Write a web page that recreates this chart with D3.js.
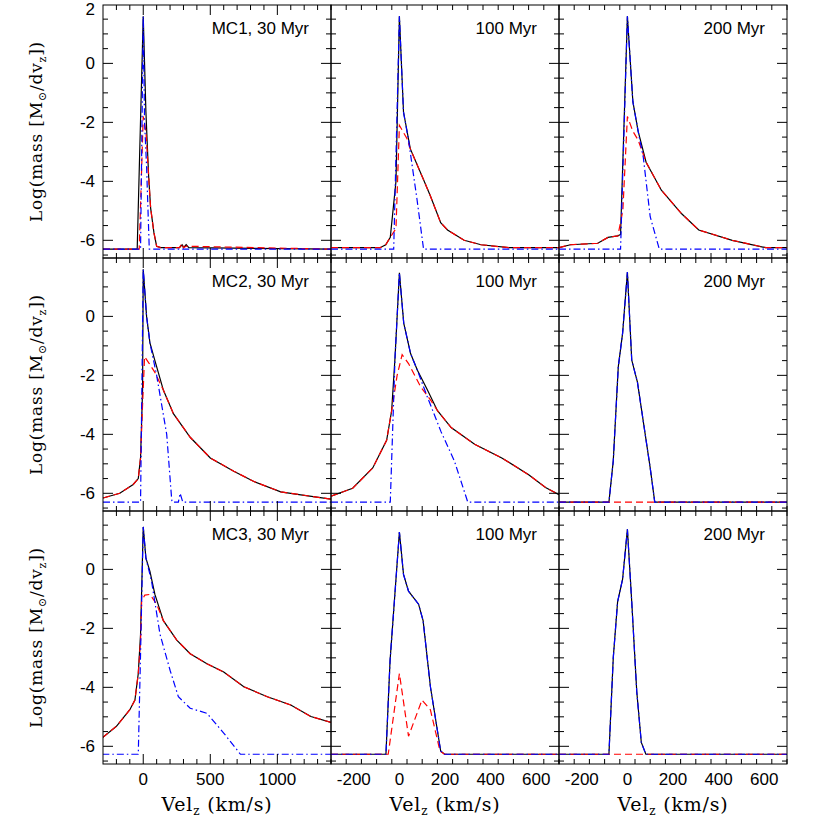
<!DOCTYPE html>
<html>
<head>
<meta charset="utf-8">
<script src="https://cdn.jsdelivr.net/npm/d3@7"></script>
<style>
body { margin: 0; background: #fff; }
text { font-family: "Liberation Sans", Arial, sans-serif; }
.serif { font-family: "DejaVu Serif", "Liberation Serif", serif; }
</style>
</head>
<body>
<svg id="chart" width="830" height="830"></svg>
<script>
// panel titles
var titles = ["MC1, 30 Myr", "100 Myr", "200 Myr",
              "MC2, 30 Myr", "100 Myr", "200 Myr",
              "MC3, 30 Myr", "100 Myr", "200 Myr"];
var xTicksWide = [0, 500, 1000];
var xTicksNarrow = [-200, 0, 200, 400, 600];
var yTicksTop = [2, 0, -2, -4, -6];
var yTicks = [0, -2, -4, -6];

// each series: [velocity, log mass] pairs
// total (black solid), gas (red dashed), stars/cold (blue dash-dot)
var mc1_30_total = [[-300,-6.3],[-45,-6.3],[0,1.6],[20,-1.65],[40,-3.8],[55,-4.9],[80,-5.75],[100,-6.2],[130,-6.25],[270,-6.25],[290,-6.15],[300,-6.25],[320,-6.15],[340,-6.25],[1400,-6.3]];
var mc1_30_gas = [[-300,-6.3],[-30,-6.3],[0,-1.8],[20,-2.3],[40,-3.8],[55,-4.9],[80,-5.75],[100,-6.2],[130,-6.25],[270,-6.25],[290,-6.1],[300,-6.25],[320,-6.2],[1400,-6.3]];
var mc1_30_blue = [[-300,-6.3],[-20,-6.3],[0,1.6],[10,-2.0],[25,-3.5],[45,-6.3],[1400,-6.3]];

var mc1_100_total = [[-300,-6.25],[-85,-6.25],[-60,-6.15],[-40,-5.9],[-15,-4.0],[0,1.6],[18,-1.65],[48,-2.9],[106,-3.95],[136,-4.5],[181,-5.4],[211,-5.65],[284,-6.0],[358,-6.15],[480,-6.25],[700,-6.25]];
var mc1_100_gas = [[-300,-6.25],[-85,-6.25],[-60,-6.15],[-40,-5.9],[-15,-5.6],[0,-2.1],[33,-2.55],[48,-2.9],[106,-3.95],[136,-4.5],[181,-5.4],[211,-5.65],[284,-6.0],[358,-6.15],[480,-6.25],[700,-6.25]];
var mc1_100_blue = [[-300,-6.3],[-25,-6.3],[0,1.6],[18,-1.65],[40,-2.6],[77,-4.6],[106,-6.3],[700,-6.3]];

var mc1_200_total = [[-300,-6.25],[-250,-6.15],[-130,-6.1],[-85,-5.9],[-42,-5.85],[-30,-5.8],[0,1.6],[24,-1.3],[47,-2.3],[82,-3.35],[149,-4.3],[238,-5.1],[313,-5.65],[460,-6.0],[607,-6.25],[700,-6.25]];
var mc1_200_gas = [[-300,-6.25],[-250,-6.15],[-130,-6.1],[-85,-5.9],[-42,-5.85],[-20,-5.0],[0,-1.8],[24,-2.3],[47,-2.6],[82,-3.35],[149,-4.3],[238,-5.1],[313,-5.65],[460,-6.0],[607,-6.25],[700,-6.25]];
var mc1_200_blue = [[-300,-6.3],[-30,-6.3],[0,1.6],[24,-1.3],[47,-2.3],[70,-3.2],[100,-5.2],[140,-6.3],[700,-6.3]];

var mc2_30_total = [[-300,-6.16],[-175,-6.0],[-75,-5.7],[-37,-5.5],[-20,-4.8],[-5,-2.5],[0,1.6],[25,0],[50,-0.9],[87,-1.5],[150,-2.5],[225,-3.3],[350,-4.1],[500,-4.8],[675,-5.25],[825,-5.6],[1025,-5.95],[1175,-6.05],[1400,-6.2]];
var mc2_30_gas = [[-300,-6.16],[-175,-6.0],[-75,-5.7],[-37,-5.5],[-20,-4.8],[-5,-3.0],[10,-1.37],[45,-1.6],[87,-1.9],[150,-2.5],[225,-3.3],[350,-4.1],[500,-4.8],[675,-5.25],[825,-5.6],[1025,-5.95],[1175,-6.05],[1400,-6.2]];
var mc2_30_blue = [[-300,-6.3],[-20,-6.3],[0,1.6],[25,0],[50,-0.9],[100,-2.0],[175,-4.0],[212,-6.2],[215,-6.3],[262,-6.3],[275,-6.0],[295,-6.3],[1400,-6.3]];

var mc2_100_total = [[-300,-6.1],[-205,-5.83],[-117,-5.14],[-56,-4.2],[-34,-3.2],[-19,-1.37],[0,1.48],[19,-0.23],[49,-1.26],[79,-1.83],[123,-2.5],[167,-3.2],[227,-3.77],[330,-4.34],[449,-4.8],[567,-5.37],[641,-5.8],[700,-6.05]];
var mc2_100_gas = [[-300,-6.1],[-205,-5.83],[-117,-5.14],[-56,-4.2],[-34,-3.2],[-10,-2.0],[12,-1.3],[40,-1.6],[94,-2.4],[138,-2.85],[167,-3.2],[227,-3.77],[330,-4.34],[449,-4.8],[567,-5.37],[641,-5.8],[700,-6.05]];
var mc2_100_blue = [[-300,-6.3],[-40,-6.3],[-19,-1.37],[0,1.48],[19,-0.23],[49,-1.26],[79,-1.83],[123,-2.74],[182,-3.9],[241,-4.9],[300,-6.3],[700,-6.3]];

var mc2_200_total = [[-300,-6.3],[-81,-6.3],[-62,-4.9],[-40,-1.71],[-21,-0.57],[0,1.5],[19,-1.48],[44,-2.23],[100,-5.14],[120,-6.3],[700,-6.3]];
var mc2_200_gas = [[-300,-6.3],[700,-6.3]];
var mc2_200_blue = mc2_200_total;

var mc3_30_total = [[-305,-5.71],[-200,-5.32],[-100,-4.76],[-62,-4.43],[-37,-3.53],[-20,-2.2],[0,1.44],[20,0.38],[50,-0.07],[87,-0.85],[150,-1.74],[250,-2.4],[350,-2.86],[475,-3.2],[600,-3.48],[750,-3.98],[925,-4.32],[1100,-4.6],[1250,-4.99],[1400,-5.19]];
var mc3_30_gas = [[-305,-5.71],[-200,-5.32],[-100,-4.76],[-62,-4.43],[-37,-3.53],[-20,-2.4],[-12,-1.07],[12,-0.87],[50,-0.85],[100,-1.18],[150,-1.74],[250,-2.4],[350,-2.86],[475,-3.2],[600,-3.48],[750,-3.98],[925,-4.32],[1100,-4.6],[1250,-4.99],[1400,-5.19]];
var mc3_30_blue = [[-305,-6.27],[-37,-6.27],[-20,-2.86],[0,1.44],[20,0.38],[62,-0.4],[125,-2.2],[200,-3.42],[262,-4.32],[350,-4.71],[475,-4.88],[600,-5.55],[725,-6.27],[1400,-6.27]];

var mc3_100_total = [[-300,-6.27],[-59,-6.27],[-41,-3.1],[0,1.27],[18,-0.17],[40,-0.74],[84,-1.18],[104,-1.74],[136,-3.98],[181,-6.16],[198,-6.27],[700,-6.27]];
var mc3_100_gas = [[-300,-6.27],[-49,-6.27],[0,-3.53],[40,-5.66],[99,-4.43],[136,-4.76],[178,-6.16],[198,-6.27],[700,-6.27]];
var mc3_100_blue = mc3_100_total;

var mc3_200_total = [[-300,-6.27],[-81,-6.27],[-62,-3.0],[-43,-1.1],[-21,-0.33],[0,1.36],[19,-1.1],[41,-4.14],[61,-5.87],[81,-6.27],[700,-6.27]];
var mc3_200_gas = [[-300,-6.27],[700,-6.27]];
var mc3_200_blue = mc3_200_total;

var panels = [
  [mc1_30_total, mc1_30_gas, mc1_30_blue], [mc1_100_total, mc1_100_gas, mc1_100_blue], [mc1_200_total, mc1_200_gas, mc1_200_blue],
  [mc2_30_total, mc2_30_gas, mc2_30_blue], [mc2_100_total, mc2_100_gas, mc2_100_blue], [mc2_200_total, mc2_200_gas, mc2_200_blue],
  [mc3_30_total, mc3_30_gas, mc3_30_blue], [mc3_100_total, mc3_100_gas, mc3_100_blue], [mc3_200_total, mc3_200_gas, mc3_200_blue]
];

var svg = d3.select("#chart");
var left = 103, top0 = 5, pw = 228, ph = 253;

var styles = [
  {color: "#000", dash: null},
  {color: "#ff0000", dash: "7,4"},
  {color: "#0000ff", dash: "7,3,1.5,3"}
];

panels.forEach(function(series, i) {
    var col = i % 3, row = Math.floor(i / 3);
    var x0 = left + col * pw, y0 = top0 + row * ph;
    var x = d3.scaleLinear().domain(col == 0 ? [-300, 1400] : [-300, 700]).range([x0, x0 + pw]);
    var y = d3.scaleLinear().domain([-6.6, 1.98]).range([y0 + ph, y0]);

    svg.append("clipPath").attr("id", "clip" + i)
        .append("rect").attr("x", x0).attr("y", y0).attr("width", pw).attr("height", ph);

    var line = d3.line().x(function(d) { return x(d[0]); }).y(function(d) { return y(d[1]); });
    var g = svg.append("g").attr("clip-path", "url(#clip" + i + ")");
    series.forEach(function(s, k) {
        g.append("path").datum(s).attr("d", line)
            .attr("fill", "none").attr("stroke", styles[k].color)
            .attr("stroke-width", 1.2)
            .attr("stroke-dasharray", styles[k].dash);
    });

    // ticks (inward on all four sides)
    var majX = col == 0 ? xTicksWide : xTicksNarrow;
    var minStep = col == 0 ? 100 : 200 / 3;
    var minX = d3.range(-300, x.domain()[1] + 1, minStep).filter(function(v) { return v > -300; });
    var minY = d3.range(-6.5, 2.0, 0.5);
    var tk = svg.append("g").attr("stroke", "#000").attr("stroke-width", 1);
    minX.forEach(function(v) {
        var L = majX.indexOf(Math.round(v)) >= 0 ? 10 : 5;
        tk.append("line").attr("x1", x(v)).attr("x2", x(v)).attr("y1", y0 + ph).attr("y2", y0 + ph - L);
        tk.append("line").attr("x1", x(v)).attr("x2", x(v)).attr("y1", y0).attr("y2", y0 + L);
    });
    minY.forEach(function(v) {
        var L = (v % 2 == 0) ? 10 : 5;
        tk.append("line").attr("x1", x0).attr("x2", x0 + L).attr("y1", y(v)).attr("y2", y(v));
        tk.append("line").attr("x1", x0 + pw).attr("x2", x0 + pw - L).attr("y1", y(v)).attr("y2", y(v));
    });

    svg.append("rect").attr("x", x0).attr("y", y0).attr("width", pw).attr("height", ph)
        .attr("fill", "none").attr("stroke", "#000").attr("stroke-width", 1);

    svg.append("text").attr("x", x0 + pw - 22).attr("y", y0 + 29)
        .attr("text-anchor", "end").attr("font-size", 17).text(titles[i]);

    if (col == 0) {
        (row == 0 ? yTicksTop : yTicks).forEach(function(v) {
            svg.append("text").attr("x", x0 - 8).attr("y", Math.max(y(v) + 6, 15))
                .attr("text-anchor", "end").attr("font-size", 17).text(v);
        });
        var yl = svg.append("text").attr("class", "serif")
            .attr("transform", "translate(42," + (y0 + ph / 2) + ") rotate(-90)")
            .attr("text-anchor", "middle").attr("font-size", 17)
            .attr("letter-spacing", 0.8);
        yl.append("tspan").text("Log(mass  [M");
        yl.append("tspan").attr("font-size", 11).attr("dy", 4).text("\u2299");
        yl.append("tspan").attr("dy", -4).text("/dv");
        yl.append("tspan").attr("font-size", 11).attr("dy", 4).text("z");
        yl.append("tspan").attr("dy", -4).text("])");
    }
    if (row == 2) {
        majX.forEach(function(v) {
            svg.append("text").attr("x", x(v)).attr("y", y0 + ph + 21)
                .attr("text-anchor", "middle").attr("font-size", 17).text(v);
        });
        var xl = svg.append("text").attr("class", "serif")
            .attr("x", x0 + pw / 2).attr("y", y0 + ph + 47)
            .attr("text-anchor", "middle").attr("font-size", 19)
            .attr("letter-spacing", 0.8);
        xl.append("tspan").text("Vel");
        xl.append("tspan").attr("font-size", 12).attr("dy", 4).text("z");
        xl.append("tspan").attr("dy", -4).text("  (km/s)");
    }
});
</script>
</body>
</html>
